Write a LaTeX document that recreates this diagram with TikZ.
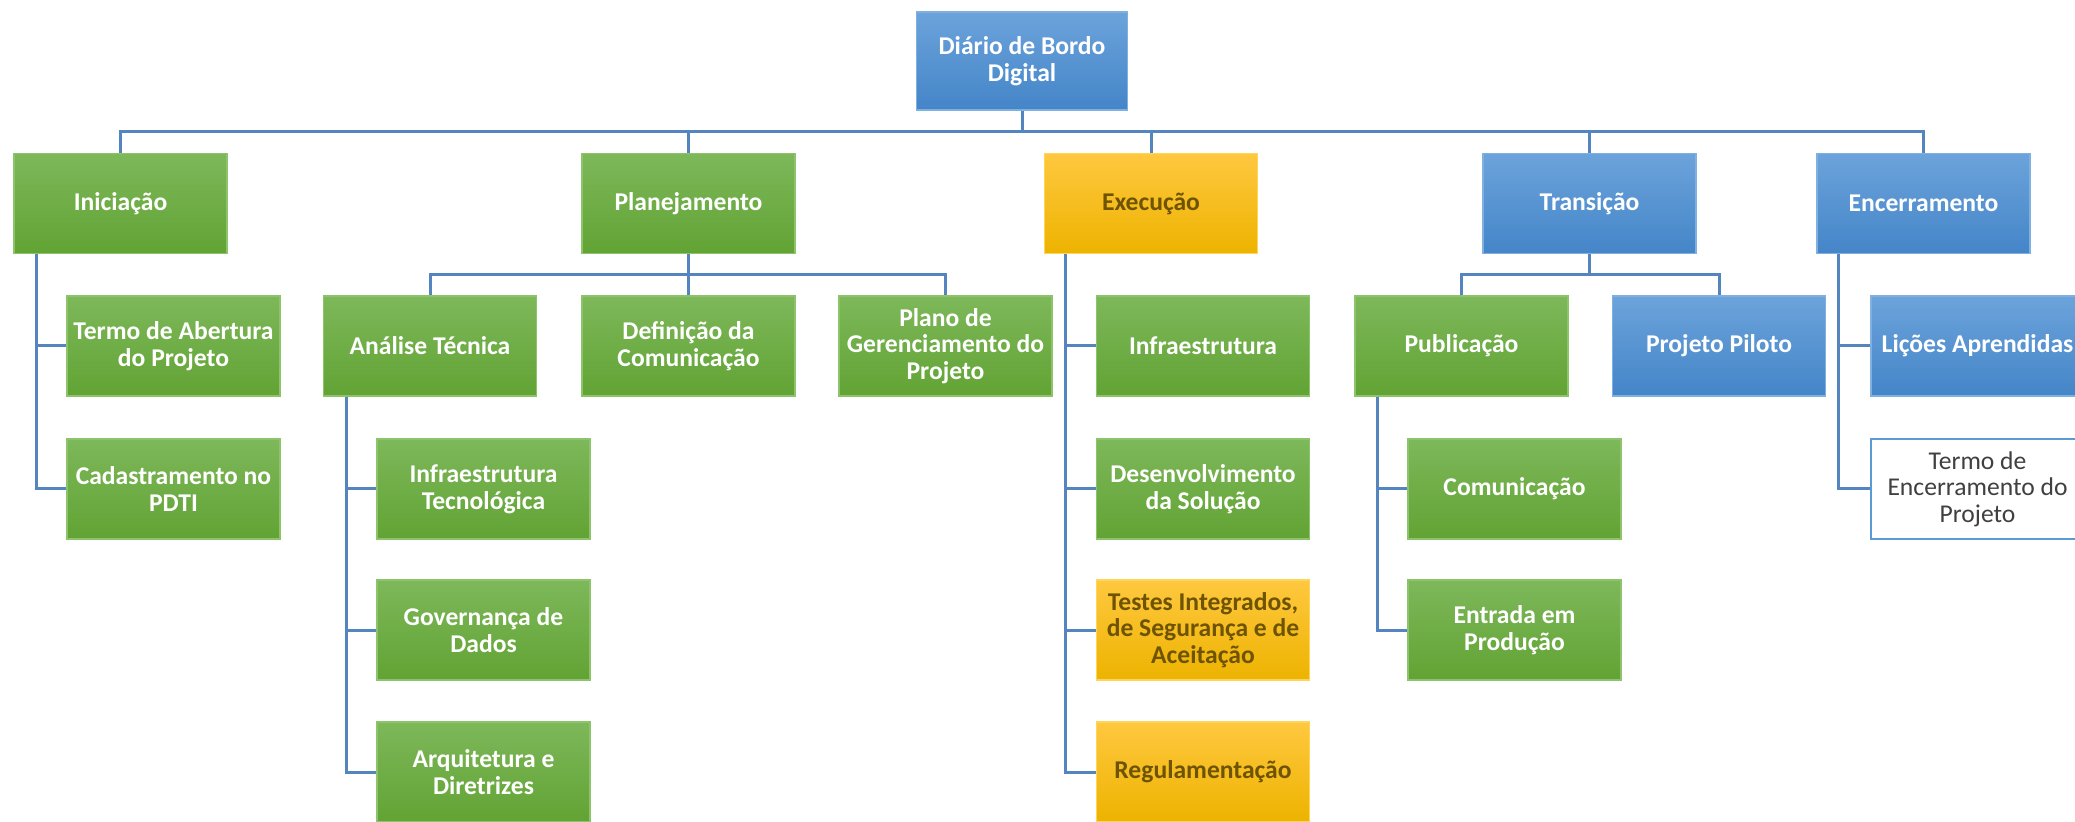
\documentclass[tikz,border=0pt]{standalone}
\usepackage{fontspec}
\setmainfont{Carlito}
\definecolor{gtop}{HTML}{7DB85A}
\definecolor{gbot}{HTML}{62A334}
\definecolor{gbrd}{HTML}{8CC36B}
\definecolor{btop}{HTML}{6CA3DB}
\definecolor{bbot}{HTML}{4485C8}
\definecolor{bbrd}{HTML}{7FB0E0}
\definecolor{ytop}{HTML}{FFC83F}
\definecolor{ybot}{HTML}{EDB300}
\definecolor{ybrd}{HTML}{FFD45A}
\definecolor{ytxt}{HTML}{6E5300}
\definecolor{conn}{HTML}{5585BF}
\definecolor{wbrd}{HTML}{5B9BD5}
\definecolor{wtxt}{HTML}{404040}
\begin{document}
\begin{tikzpicture}[x=0.5pt,y=-0.5pt,
  box/.style={rectangle, minimum width=106.5pt, minimum height=50pt, inner sep=1pt,
    align=center, font=\fontsize{12.8}{13.3}\selectfont\bfseries, line width=0.6pt},
  gbox/.style={box, top color=gtop, bottom color=gbot, draw=gbrd, text=white},
  bbox/.style={box, top color=btop, bottom color=bbot, draw=bbrd, text=white},
  ybox/.style={box, top color=ytop, bottom color=ybot, draw=ybrd, text=ytxt},
  wbox/.style={box, fill=white, draw=wbrd, line width=1pt, text=wtxt, font=\fontsize{12.8}{13.3}\selectfont},
  link/.style={draw=conn, line width=1.5pt}]
\useasboundingbox (0,0) rectangle (2075,822);
\clip (0,0) rectangle (2075,822);

% root
\node[bbox, minimum width=105.5pt, minimum height=49pt] (root) at (1022,61) {Diário de Bordo\\Digital};

% level 1
\node[gbox] (ini) at (120.5,203.5) {Iniciação};
\node[gbox] (pla) at (688.5,203.5) {Planejamento};
\node[ybox] (exe) at (1151,203.5) {Execução};
\node[bbox] (tra) at (1589.5,203.5) {Transição};
\node[bbox] (enc) at (1923.5,203.5) {Encerramento};

% row 2
\node[gbox] (termo) at (173.5,346) {Termo de Abertura\\do Projeto};
\node[gbox] (ana) at (430,346) {Análise Técnica};
\node[gbox] (def) at (688.5,346) {Definição da\\Comunicação};
\node[gbox] (plano) at (945.5,346) {Plano de\\Gerenciamento do\\Projeto};
\node[gbox] (infra) at (1203,346) {Infraestrutura};
\node[gbox] (pub) at (1461.5,346) {Publicação};
\node[bbox] (pil) at (1719,346) {Projeto Piloto};
\node[bbox] (lic) at (1977.5,346) {Lições Aprendidas};

% row 3
\node[gbox] (cad) at (173.5,489) {Cadastramento no\\PDTI};
\node[gbox] (inftec) at (483.5,489) {Infraestrutura\\Tecnológica};
\node[gbox] (des) at (1203,489) {Desenvolvimento\\da Solução};
\node[gbox] (com) at (1514.5,489) {Comunicação};
\node[wbox] (tenc) at (1977.5,489) {Termo de\\Encerramento do\\Projeto};

% row 4
\node[gbox] (gov) at (483.5,630) {Governança de\\Dados};
\node[ybox] (tes) at (1203,630) {Testes Integrados,\\de Segurança e de\\Aceitação};
\node[gbox] (ent) at (1514.5,630) {Entrada em\\Produção};

% row 5
\node[gbox] (arq) at (483.5,772) {Arquitetura e\\Diretrizes};
\node[ybox] (reg) at (1203,772) {Regulamentação};

% top bus
\coordinate (busy) at (0,132);
\path[link] (root.south) -- (root.south |- busy);
\path[link] (ini.north) -- (ini.north |- busy) -- (enc.north |- busy) -- (enc.north);
\path[link] (pla.north) -- (pla.north |- busy);
\path[link] (exe.north) -- (exe.north |- busy);
\path[link] (tra.north) -- (tra.north |- busy);

% planejamento bus
\coordinate (busp) at (0,275);
\path[link] (pla.south) -- (pla.south |- busp);
\path[link] (ana.north) -- (ana.north |- busp) -- (plano.north |- busp) -- (plano.north);
\path[link] (def.north) -- (def.north |- busp);

% transicao bus
\path[link] (tra.south) -- (tra.south |- busp);
\path[link] (pub.north) -- (pub.north |- busp) -- (pil.north |- busp) -- (pil.north);

% side connectors
\path[link] (ini.south west) ++(23,0) |- (termo.west);
\path[link] (ini.south west) ++(23,0) |- (cad.west);

\path[link] (ana.south west) ++(24,0) |- (inftec.west);
\path[link] (ana.south west) ++(24,0) |- (gov.west);
\path[link] (ana.south west) ++(24,0) |- (arq.west);

\path[link] (exe.south west) ++(22,0) |- (infra.west);
\path[link] (exe.south west) ++(22,0) |- (des.west);
\path[link] (exe.south west) ++(22,0) |- (tes.west);
\path[link] (exe.south west) ++(22,0) |- (reg.west);

\path[link] (pub.south west) ++(23,0) |- (com.west);
\path[link] (pub.south west) ++(23,0) |- (ent.west);

\path[link] (enc.south west) ++(22,0) |- (lic.west);
\path[link] (enc.south west) ++(22,0) |- (tenc.west);
\end{tikzpicture}
\end{document}
